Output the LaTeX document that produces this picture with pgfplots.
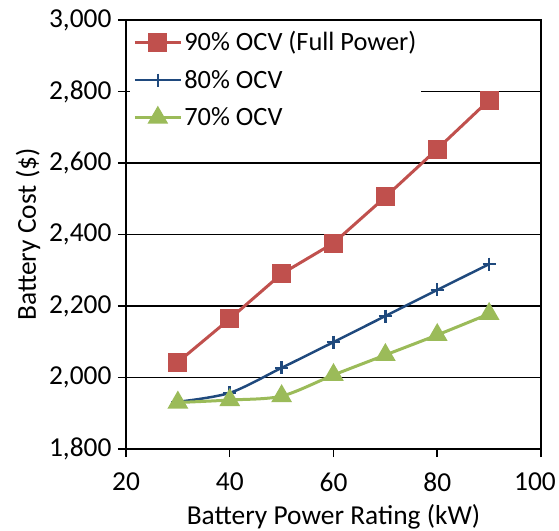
\documentclass[border=0pt]{standalone}
\usepackage{fontspec}
\setmainfont{Carlito}
\usepackage{pgfplots}
\pgfplotsset{compat=1.18}
\definecolor{cred}{HTML}{C0504D}
\definecolor{cblue}{HTML}{1F497D}
\definecolor{cgreen}{HTML}{9BBB59}
\begin{document}
\begin{tikzpicture}
\useasboundingbox (-126bp,-82bp) rectangle (433bp,449bp);
\begin{axis}[
  name=ax,
  at={(0,0)}, anchor=south west,
  scale only axis,
  width=415bp, height=429bp,
  xmin=20, xmax=100, ymin=1800, ymax=3000,
  xtick={20,40,60,80,100},
  xticklabels={20,40,60,80,{100\kern12bp}},
  ytick={1800,2000,2200,2400,2600,2800,3000},
  xtick pos=left, ytick pos=left,
  tick align=outside,
  major tick length=8bp,
  tick style={black, line width=1.5bp},
  ymajorgrids,
  grid style={black, line width=1.2bp},
  axis line style={black, line width=1.5bp},
  /pgf/number format/assume math mode=true,
  /pgf/number format/1000 sep={,},
  /pgf/number format/fixed,
  /pgf/number format/precision=0,
  ticklabel style={font=\fontsize{27.5}{32}\selectfont},
  yticklabel style={xshift=-3bp},
  xticklabel style={yshift=-12bp},
  label style={font=\fontsize{27.5}{32}\selectfont},
  xlabel={Battery Power Rating (kW)},
  ylabel={Battery Cost (\$)},
  xlabel style={yshift=-6bp},
  ylabel style={yshift=2bp},
  legend cell align=left,
  legend style={at={(0.01,0.985)}, anchor=north west, draw=none, fill=white,
    font=\fontsize{26.5}{31}\selectfont, row sep=14bp, inner sep=3bp,
    nodes={inner sep=2bp}},
  legend image code/.code={\draw[mark repeat=2,mark phase=2] plot coordinates {(0bp,0bp) (23bp,0bp) (46bp,0bp)};},
]
\addplot[cred, line width=3bp, mark=square*, mark size=8bp, mark options={solid}] coordinates {
(30,2043) (40,2164) (50,2290) (60,2376) (70,2505) (80,2639) (90,2776)};
\addlegendentry{90\% OCV (Full Power)}
\addplot[cblue, line width=2.5bp, smooth, mark=+, mark size=6.5bp, mark options={line width=2.5bp}] coordinates {
(30,1932) (40,1957) (50,2027) (60,2099) (70,2172) (80,2245) (90,2317)};
\addlegendentry{80\% OCV}
\addplot[cgreen, line width=3bp, smooth, mark=triangle*, mark size=9bp] coordinates {
(30,1930) (40,1937) (50,1948) (60,2007) (70,2063) (80,2119) (90,2178)};
\addlegendentry{70\% OCV}
\end{axis}
\draw[black, line width=2.7bp] (ax.north west) -- (ax.south west) -- (ax.south east);
\end{tikzpicture}
\end{document}
